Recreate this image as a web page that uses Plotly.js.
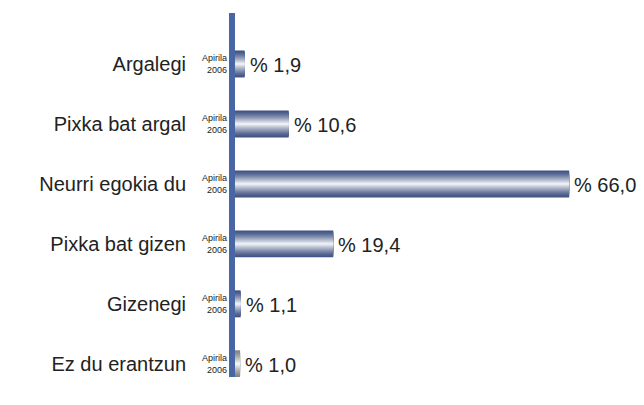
<!DOCTYPE html>
<html>
<head>
<meta charset="utf-8">
<script src="https://cdn.plot.ly/plotly-3.0.1.min.js"></script>
<style>html,body{margin:0;padding:0;background:#fff;}#chart{width:644px;height:405px;}</style>
</head>
<body>
<div id="chart"></div>
<script>
var categories = ["Argalegi", "Pixka bat argal", "Neurri egokia du", "Pixka bat gizen", "Gizenegi", "Ez du erantzun"];
var values = [1.9, 10.6, 66.0, 19.4, 1.1, 1.0];
var dateLabel = "Apirila<br>2006";
var isNoAnswer = [false, false, false, false, false, true];

var FONT = 'Arial, Liberation Sans, sans-serif';
function mix(a, b, t) {
  return 'rgb(' + [0,1,2].map(function(i){ return Math.round(a[i] + (b[i]-a[i])*t); }).join(',') + ')';
}
var blueEdge = [64, 82, 130], grayEdge = [130, 130, 130], white = [255, 255, 255];
var N = 14, fullW = 0.45;
var traces = [];
for (var k = 0; k < N; k++) {
  var f = k / N;
  var t = Math.pow(f, 1.3);
  var cols = categories.map(function(c, i){ return mix(isNoAnswer[i] ? grayEdge : blueEdge, white, t); });
  traces.push({
    type: 'bar', orientation: 'h',
    y: categories, x: values,
    width: fullW * (1 - f),
    marker: {color: cols, line: {width: 0}},
    hoverinfo: 'skip', showlegend: false
  });
}

var annotations = categories.map(function(c){
  return {x: 0, y: c, xref: 'x', yref: 'y', text: dateLabel, showarrow: false,
    xanchor: 'right', yanchor: 'middle', xshift: -6, align: 'right',
    font: {family: FONT, size: 9, color: '#222'}};
});
categories.forEach(function(c, i){
  annotations.push({x: values[i], y: c, xref: 'x', yref: 'y',
    text: '% ' + values[i].toFixed(1).replace('.', ','), showarrow: false,
    xanchor: 'left', yanchor: 'middle', xshift: 3, yshift: -1,
    font: {family: FONT, size: 20, color: '#222'}});
});

var layout = {
  width: 644, height: 405,
  margin: {l: 235, r: 4, t: 13, b: 28},
  paper_bgcolor: '#fff', plot_bgcolor: '#fff',
  barmode: 'overlay',
  hovermode: false,
  showlegend: false,
  xaxis: {range: [0, 80], visible: false, fixedrange: true},
  yaxis: {
    type: 'category', categoryorder: 'array', categoryarray: categories,
    range: [5.22, -0.85],
    showline: true, linewidth: 6, linecolor: '#4766a3',
    showgrid: false, zeroline: false, ticks: '',
    ticklabelstandoff: 39,
    tickfont: {family: FONT, size: 20, color: '#222'}
  },
  annotations: annotations
};
Plotly.newPlot('chart', traces, layout, {displayModeBar: false, staticPlot: true});
</script>
</body>
</html>
